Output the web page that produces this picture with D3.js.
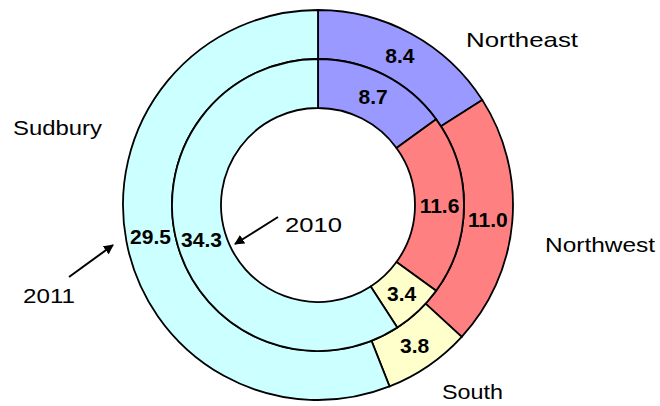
<!DOCTYPE html>
<html>
<head>
<meta charset="utf-8">
<script src="https://cdn.jsdelivr.net/npm/d3@7"></script>
<style>
  body { margin: 0; background: #fff; }
  text { font-family: "Liberation Sans", Arial, sans-serif; }
</style>
</head>
<body>
<div id="container"></div>
<script>
const w = 660;
const h = 406;

// data
let regions = ["Northeast", "Northwest", "South", "Sudbury"];
let values2011 = [8.4, 11.0, 3.8, 29.5];   // outer ring
let values2010 = [8.7, 11.6, 3.4, 34.3];   // inner ring
let years = ["2011", "2010"];
let colors = ["#9999FF", "#FF8080", "#FFFFCC", "#CCFFFF"];

// layout
let cx = 318, cy = 205;
let rHole = 97, rMid = 146, rOuter = 195;

let viz = d3.select("#container").append("svg").attr("width", w).attr("height", h);

let defs = viz.append("defs");
defs.append("marker")
    .attr("id", "arrow")
    .attr("viewBox", "0 0 10 10")
    .attr("refX", 9).attr("refY", 5)
    .attr("markerWidth", 5).attr("markerHeight", 5)
    .attr("orient", "auto")
  .append("path")
    .attr("d", "M0,0 L10,5 L0,10 z")
    .attr("fill", "black");

let pie = d3.pie().sort(null).value(function(d){ return d; });
let color = d3.scaleOrdinal().domain(regions).range(colors);

let rings = [
  { values: values2011, inner: rMid, outer: rOuter },
  { values: values2010, inner: rHole, outer: rMid }
];

let g = viz.append("g").attr("transform", "translate(" + cx + "," + cy + ")");

rings.forEach(function(ring){
  let arc = d3.arc().innerRadius(ring.inner).outerRadius(ring.outer);
  let slices = pie(ring.values);

  g.append("g").selectAll("path").data(slices).enter()
    .append("path")
    .attr("d", arc)
    .attr("fill", function(d, i){ return color(regions[i]); })
    .attr("stroke", "black")
    .attr("stroke-width", 1.8);

  g.append("g").selectAll("text").data(slices).enter()
    .append("text")
    .attr("transform", function(d){ return "translate(" + arc.centroid(d) + ")"; })
    .attr("text-anchor", "middle")
    .attr("dy", "0.36em")
    .attr("font-size", 21)
    .attr("font-weight", "bold")
    .attr("fill", "black")
    .text(function(d){ return d3.format(".1f")(d.data); });
});

// category labels
let catPos = {
  "Northeast": [466, 47, 112],
  "Northwest": [545, 252, 110],
  "South": [442, 399, 61],
  "Sudbury": [13, 135, 89]
};
regions.forEach(function(r){
  let p = catPos[r];
  viz.append("text")
    .attr("x", p[0]).attr("y", p[1])
    .attr("font-size", 21)
    .attr("textLength", p[2])
    .attr("lengthAdjust", "spacingAndGlyphs")
    .text(r);
});

// ring annotations with arrows
let yearPos = {
  "2011": { text: [23, 303, 52], line: [69, 277, 113, 245] },
  "2010": { text: [285, 232, 57], line: [278, 217, 235, 244] }
};
years.forEach(function(y){
  let p = yearPos[y];
  viz.append("text")
    .attr("x", p.text[0]).attr("y", p.text[1])
    .attr("font-size", 21)
    .attr("textLength", p.text[2])
    .attr("lengthAdjust", "spacingAndGlyphs")
    .text(y);
  viz.append("line")
    .attr("x1", p.line[0]).attr("y1", p.line[1])
    .attr("x2", p.line[2]).attr("y2", p.line[3])
    .attr("stroke", "black")
    .attr("stroke-width", 2)
    .attr("marker-end", "url(#arrow)");
});
</script>
</body>
</html>
